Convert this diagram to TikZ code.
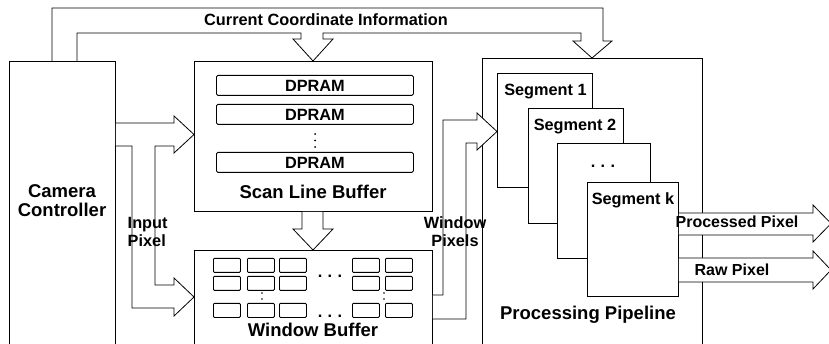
\documentclass[tikz,border=0pt]{standalone}
\usepackage{fontspec}
\setmainfont{Liberation Sans}
\begin{document}
\begin{tikzpicture}[x=1pt,y=-1pt,line width=0.8pt,
  box/.style={draw,fill=white,inner sep=0pt,anchor=north west},
  big/.style={font=\fontsize{18.5}{19}\selectfont\bfseries},
  small/.style={font=\fontsize{16.3}{18}\selectfont\bfseries},
  ram/.style={box,rounded corners=1.5pt,minimum width=197pt,minimum height=20pt,small},
  cell/.style={draw,rounded corners=1pt,inner sep=0pt,anchor=north west,minimum width=27pt,minimum height=14pt},
  fat/.style={draw,fill=white,line join=miter},
  dot/.style={circle,fill,inner sep=0pt,minimum size=2pt}
]
\useasboundingbox (0,0) rectangle (829,344);
\clip (0,0) rectangle (829,344);

% main blocks
\node[box,minimum width=106pt,minimum height=300pt] (cam) at (9,61) {};
\node[big,align=center] (camlbl) at (62,201) {Camera\\Controller};

\node[box,minimum width=238pt,minimum height=150pt] (slb) at (194,61) {};
\node[ram] (d1) at (216,75) {DPRAM};
\node[ram] (d2) at (216,104) {DPRAM};
\node[ram] (d3) at (216,152) {DPRAM};
\node[dot] (v1) at (315,134) {};
\node[dot] (v2) at (315,140.5) {};
\node[dot] (v3) at (315,147) {};
\node[big] (slblbl) at (313,192) {Scan Line Buffer};

\node[box,minimum width=238pt,minimum height=120pt] (wb) at (194,250) {};
\foreach \r/\y in {a/258,b/276,c/303}{
  \foreach \c/\x in {1/213,2/247,3/279,4/352,5/385}{
    \node[cell] (c\r\c) at (\x,\y) {};
  }
}
\node[small,anchor=base] (hd1) at (330,278) {.\,\,.\,\,.};
\node[small,anchor=base] (hd2) at (330,317) {.\,\,.\,\,.};
\node[dot,minimum size=1.6pt] (w1) at (262,293) {};
\node[dot,minimum size=1.6pt] (w2) at (262,299) {};
\node[dot,minimum size=1.6pt] (w3) at (384,293) {};
\node[dot,minimum size=1.6pt] (w4) at (384,299) {};
\node[big] (wblbl) at (313,330) {Window Buffer};

\node[box,minimum width=220pt,minimum height=300pt] (pip) at (482,58) {};
\node[box,minimum width=95pt,minimum height=114pt] (s1) at (497,73) {};
\node[small] (s1l) at (545.5,92) {Segment 1};
\node[box,minimum width=95pt,minimum height=115pt] (s2) at (528,108) {};
\node[small] (s2l) at (575,127) {Segment 2};
\node[box,minimum width=93pt,minimum height=115pt] (s3) at (557,143) {};
\node[small,anchor=base] (s3l) at (603,168) {.\,\,.\,\,.};
\node[box,minimum width=91pt,minimum height=114pt] (sk) at (587,182) {};
\node[small] (skl) at (633,200) {Segment k};
\node[big] (piplbl) at (588,315) {Processing Pipeline};

% current coordinate information
\draw[line join=miter] (52,0 |- cam.north) -- (52,8) -- (603,8) -- (603,41) -- (612,41)
  -- (592,0 |- pip.north) -- (573,41) -- (581,41) -- (581,33) -- (323,33) -- (323,39)
  -- (333,39) -- (313,0 |- slb.north) -- (293,39) -- (301,39) -- (301,33) -- (77,33)
  -- (77,0 |- cam.north);
\node[small] (cci) at (326,20) {Current Coordinate Information};

% scan line buffer -> window buffer
\draw[fat] (302,0 |- slb.south) -- (302,229) -- (293,229) -- (313,0 |- wb.north)
  -- (333,229) -- (323,229) -- (323,0 |- slb.south);

% input pixel
\draw[fat] (cam.east |- 0,123) -- (174,123) -- (174,116) -- (slb.west |- 0,134.5)
  -- (174,153) -- (174,146) -- (155,146) -- (155,285) -- (174,285) -- (174,278)
  -- (wb.west |- 0,297) -- (174,316) -- (174,308) -- (132,308) -- (132,146)
  -- (cam.east |- 0,146);
\node[small,align=left,anchor=west] (iplbl) at (124,232) {Input\\Pixel};

% window pixels
\draw[fat] (wb.east |- 0,295) -- (443,295) -- (443,120) -- (477,120) -- (477,113)
  -- (s1.west |- 0,131.5) -- (477,150) -- (477,143) -- (466,143) -- (466,319)
  -- (wb.east |- 0,319);
\node[small,align=center] (wplbl) at (455,232) {Window\\Pixels};

% outputs
\draw[fat] (sk.east |- 0,213) -- (813,213) -- (813,205) -- (831,223.5) -- (813,242)
  -- (813,235) -- (sk.east |- 0,235);
\node[small,font=\fontsize{16}{18}\selectfont\bfseries] (ppl) at (737,222) {Processed Pixel};
\draw[fat] (sk.east |- 0,258) -- (813,258) -- (813,251) -- (831,270) -- (813,289)
  -- (813,282) -- (sk.east |- 0,282);
\node[small,font=\fontsize{16}{18}\selectfont\bfseries] (rpl) at (732,270) {Raw Pixel};
\end{tikzpicture}
\end{document}
